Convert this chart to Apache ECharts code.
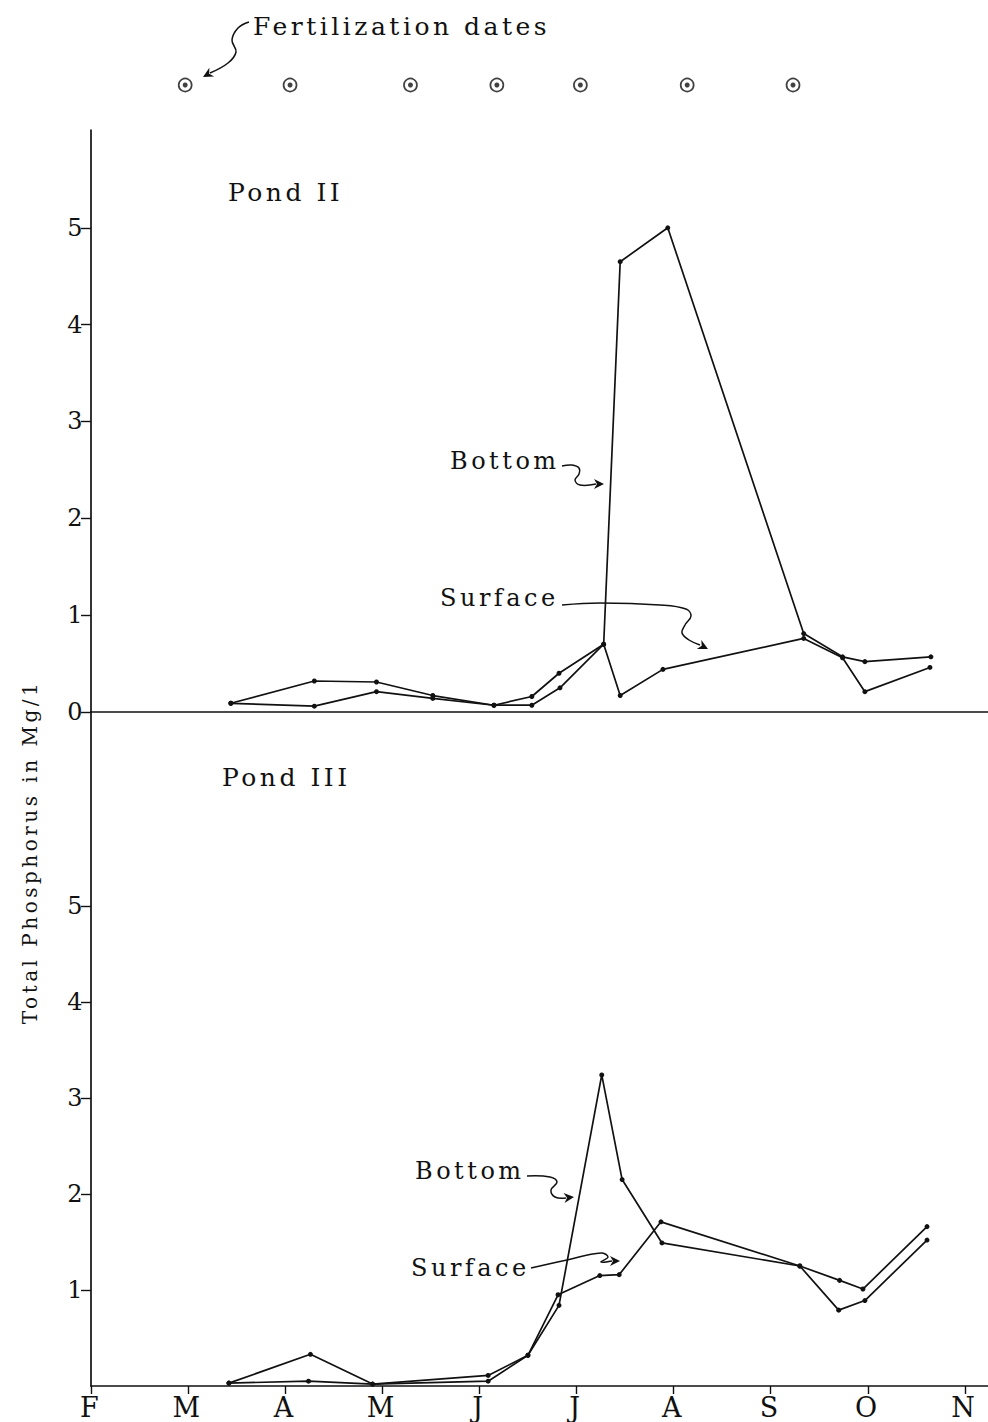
<!DOCTYPE html>
<html>
<head>
<meta charset="utf-8">
<script src="https://cdn.jsdelivr.net/npm/echarts@6/dist/echarts.min.js"></script>
<style>
html,body{margin:0;padding:0;background:#fff;}
#chart{width:988px;height:1422px;}
#chart svg text{letter-spacing:3.5px;}
</style>
</head>
<body>
<div id="chart"></div>
<script>
// ---- data (x = months after Feb 1; y = total phosphorus, mg/l) ----
const monthLabels = ['F','M','A','M','J','J','A','S','O','N'];
const monthTicks = [0,1,2,3,4,5,6,7,8,9];
const pond2Ticks = [0,1,2,3,4,5];
const pond3Ticks = [1,2,3,4,5];
const fertilizationDates = [0.97, 2.05, 3.29, 4.18, 5.04, 6.14, 7.23];

const pond2Bottom = [[1.44,0.09],[2.30,0.32],[2.94,0.31],[3.52,0.17],[4.15,0.07],[4.54,0.16],[4.82,0.40],[5.28,0.70],[5.45,4.65],[5.94,5.00],[7.34,0.81],[7.74,0.57],[7.97,0.52],[8.65,0.57]];
const pond2Surface = [[1.44,0.09],[2.30,0.06],[2.94,0.21],[3.52,0.14],[4.15,0.07],[4.54,0.07],[4.83,0.25],[5.28,0.70],[5.45,0.17],[5.89,0.44],[7.34,0.76],[7.74,0.56],[7.97,0.21],[8.64,0.46]];

const pond3Bottom = [[1.42,0.03],[2.26,0.33],[2.90,0.02],[4.09,0.11],[4.50,0.32],[4.82,0.84],[5.26,3.24],[5.47,2.15],[5.88,1.49],[7.30,1.25],[7.70,0.79],[7.97,0.89],[8.61,1.52]];
const pond3Surface = [[1.42,0.03],[2.24,0.05],[2.90,0.02],[4.09,0.05],[4.50,0.32],[4.81,0.95],[5.24,1.15],[5.44,1.16],[5.87,1.71],[7.30,1.25],[7.71,1.10],[7.95,1.01],[8.61,1.66]];

// ---- styling ----
const FONT = 'DejaVu Serif';
const INK = '#111';
const X_MAX = 9.238;

function lineSeries(name, data, xi, yi) {
  return {
    name: name, type: 'line', xAxisIndex: xi, yAxisIndex: yi, data: data,
    symbol: 'circle', symbolSize: 5, showSymbol: true,
    lineStyle: {color: INK, width: 1.7},
    itemStyle: {color: INK},
    animation: false, silent: true, z: 3
  };
}

function arrowHead(x, y, dx, dy) {
  const L = Math.sqrt(dx*dx + dy*dy); dx /= L; dy /= L;
  const len = 10, w = 5;
  const bx = x - dx*len, by = y - dy*len;
  return {
    type: 'polygon',
    shape: {points: [[x, y], [bx - dy*w, by + dx*w], [bx + dx*3, by + dy*3], [bx + dy*w, by - dx*w]]},
    style: {fill: INK}
  };
}
function curve(points) {
  return {type: 'polyline', shape: {points: points, smooth: 0.4}, style: {stroke: INK, lineWidth: 1.5, fill: null}};
}
function label(text, x, y, size) {
  return {type: 'text', x: x, y: y, style: {text: text, font: size + 'px "' + FONT + '"', fill: INK, verticalAlign: 'middle'}};
}

const chart = echarts.init(document.getElementById('chart'), null, {renderer: 'svg'});

const option = {
  backgroundColor: '#fff',
  animation: false,
  grid: [
    {left: 91, width: 897, top: 75, height: 20},
    {left: 91, width: 897, top: 130, height: 582},
    {left: 91, width: 897, top: 712, height: 674}
  ],
  xAxis: [
    {gridIndex: 0, type: 'value', min: 0, max: X_MAX, show: false},
    {gridIndex: 1, type: 'value', min: 0, max: X_MAX,
      axisLine: {show: true, onZero: false, lineStyle: {color: INK, width: 1.7}},
      axisTick: {show: false}, axisLabel: {show: false}, splitLine: {show: false}},
    {gridIndex: 2, type: 'value', min: 0, max: X_MAX,
      axisLine: {show: true, onZero: false, lineStyle: {color: INK, width: 1.7}},
      axisTick: {show: true, inside: false, length: 8, customValues: monthTicks, lineStyle: {color: INK, width: 1.4}},
      axisLabel: {show: true, customValues: monthTicks, margin: 8, color: INK, fontFamily: FONT, fontSize: 27,
        formatter: function (v) { return monthLabels[Math.round(v)]; }},
      splitLine: {show: false}}
  ],
  yAxis: [
    {gridIndex: 0, type: 'value', min: -1, max: 1, show: false},
    {gridIndex: 1, type: 'value', min: 0, max: 6.01,
      axisLine: {show: true, lineStyle: {color: INK, width: 1.7}},
      axisTick: {show: true, length: 10, customValues: pond2Ticks, lineStyle: {color: INK, width: 1.4}},
      axisLabel: {show: true, customValues: pond2Ticks, margin: 5, color: INK, fontFamily: FONT, fontSize: 24},
      splitLine: {show: false}},
    {gridIndex: 2, type: 'value', min: 0, max: 7.02,
      axisLine: {show: true, lineStyle: {color: INK, width: 1.7}},
      axisTick: {show: true, length: 10, customValues: pond3Ticks, lineStyle: {color: INK, width: 1.4}},
      axisLabel: {show: true, customValues: pond3Ticks, margin: 5, color: INK, fontFamily: FONT, fontSize: 24},
      splitLine: {show: false}}
  ],
  series: [
    {type: 'scatter', xAxisIndex: 0, yAxisIndex: 0, data: fertilizationDates.map(function (d) { return [d, 0]; }),
      symbol: 'circle', symbolSize: 13, itemStyle: {color: '#fff', borderColor: INK, borderWidth: 1.7}, silent: true, z: 3},
    {type: 'scatter', xAxisIndex: 0, yAxisIndex: 0, data: fertilizationDates.map(function (d) { return [d, 0]; }),
      symbol: 'circle', symbolSize: 5, itemStyle: {color: INK}, silent: true, z: 4},
    lineSeries('Pond II Bottom', pond2Bottom, 1, 1),
    lineSeries('Pond II Surface', pond2Surface, 1, 1),
    lineSeries('Pond III Bottom', pond3Bottom, 2, 2),
    lineSeries('Pond III Surface', pond3Surface, 2, 2)
  ],
  graphic: [
    label('Fertilization dates', 253, 26, 25),
    curve([[249,22],[238,28],[232,40],[236,52],[228,63],[210,73]]),
    arrowHead(203, 77, -1, 0.55),
    label('Pond II', 228, 192, 25),
    label('Pond III', 222, 777, 25),
    {type: 'text', x: 30, y: 852, rotation: Math.PI/2,
      style: {text: 'Total Phosphorus in Mg/1', font: '20px "' + FONT + '"', fill: INK, align: 'center', verticalAlign: 'middle'}},
    // Pond II annotations
    label('Bottom', 450, 461, 24),
    curve([[562,466],[572,465],[579,468],[579,474],[575,480],[580,485],[596,484]]),
    arrowHead(604, 484, 1, 0),
    label('Surface', 440, 598, 24),
    curve([[562,605],[600,603],[660,605],[686,609],[691,616],[685,625],[682,633],[689,640],[700,645]]),
    arrowHead(708, 649, 1, 0.5),
    // Pond III annotations
    label('Bottom', 415, 1171, 24),
    curve([[527,1176],[550,1177],[557,1182],[551,1190],[555,1197],[566,1198]]),
    arrowHead(574, 1197, 1, -0.1),
    label('Surface', 411, 1268, 24),
    curve([[531,1268],[567,1260],[601,1253],[608,1257],[601,1262],[612,1261]]),
    arrowHead(620, 1261, 1, 0)
  ]
};
chart.setOption(option);
</script>
</body>
</html>
